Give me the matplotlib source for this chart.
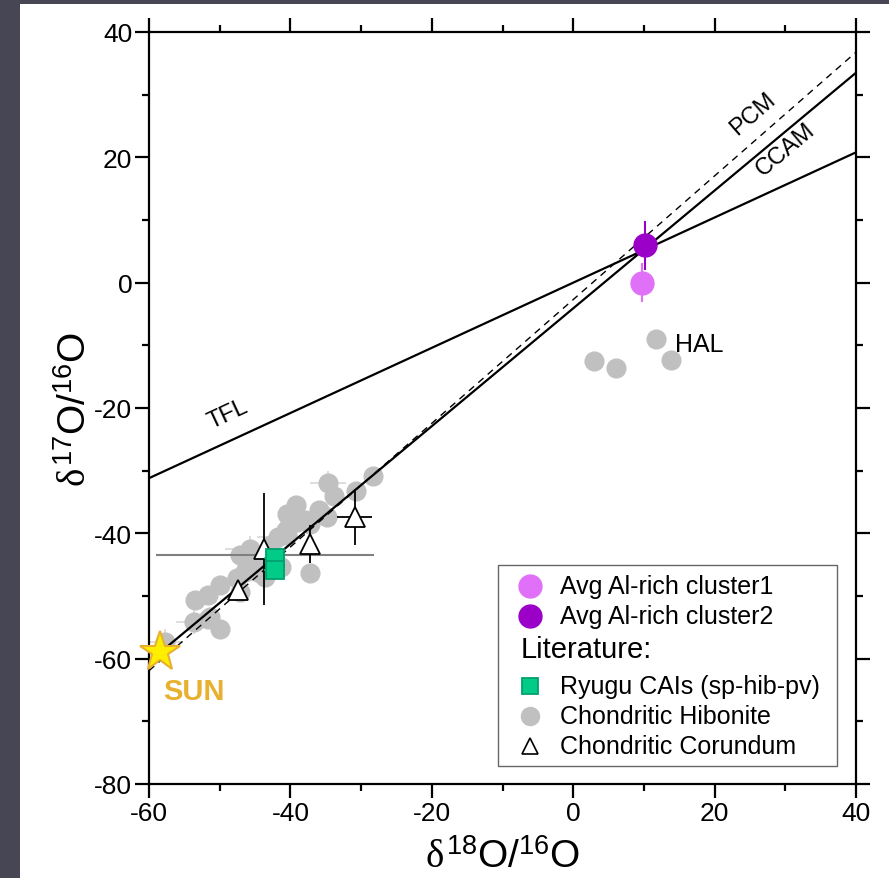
import matplotlib
matplotlib.use("Agg")
import matplotlib.pyplot as plt
from matplotlib.patches import Rectangle
from matplotlib.ticker import MultipleLocator

plt.rcParams['font.family'] = ['Liberation Sans', 'DejaVu Sans']
plt.rcParams['mathtext.fontset'] = 'custom'
plt.rcParams['mathtext.rm'] = 'Liberation Sans'
plt.rcParams['mathtext.it'] = 'Liberation Serif'
plt.rcParams['mathtext.bf'] = 'Liberation Sans:bold'
plt.rcParams['axes.unicode_minus'] = False

# ---------------- data ----------------
# reference lines: slope, intercept
line_names = ["TFL", "CCAM", "PCM"]
line_slopes = [0.52, 0.94, 0.987]
line_intercepts = [0.0, -4.1, -2.7]
line_styles = ["-", "-", "--"]
line_xrange = [-60, 40]

# this study
c1_x, c1_y, c1_yerr = [9.7], [0.0], [3.1]
c2_x, c2_y, c2_yerr = [10.1], [6.0], [3.9]

# literature: chondritic hibonite
hib_x = [-28.3, -30.7, -34.7, -33.8, -34.8, -36.0, -39.2, -40.5, -39.1, -37.2,
         -41.7, -40.5, -37.2, -41.4, -43.6, -47.1, -45.7, -46.4, -47.6, -49.9,
         -51.6, -53.5, -49.9, -51.6, -53.7, -57.7, -44.3, -40.5, -46.2, -45.3,
         -47.1, -51.4, -38.0, -42.8,
         3.0, 6.1, 11.7, 13.8]
hib_y = [-30.8, -33.3, -32.0, -34.1, -37.4, -36.3, -35.5, -36.9, -38.2, -38.5,
         -40.6, -40.3, -46.4, -45.3, -46.9, -43.5, -42.5, -46.2, -47.2, -48.3,
         -49.9, -50.7, -55.2, -53.6, -54.1, -57.3, -46.4, -39.3, -45.1, -44.5,
         -49.3, -53.3, -37.8, -41.8,
         -12.5, -13.6, -9.0, -12.3]
hib_xerr = [0, 0, 2.5, 0, 0, 0, 0, 0, 0, 0,
            3.0, 0, 0, 0, 0, 0, 3.5, 0, 0, 0,
            0, 0, 0, 0, 2.5, 2.5, 0, 0, 0, 0,
            0, 0, 0, 0,
            0, 0, 0, 0]
hib_yerr = [0, 0, 2.0, 0, 0, 0, 0, 0, 0, 0,
            2.0, 0, 0, 0, 0, 0, 2.0, 0, 0, 0,
            0, 0, 0, 0, 2.0, 2.0, 0, 0, 0, 0,
            0, 0, 0, 0,
            0, 0, 0, 0]
# long horizontal error bar (literature)
wide_x, wide_y, wide_xerr = [-43.6], [-43.4], [15.4]

# literature: chondritic corundum
cor_x = [-30.9, -37.2, -43.7, -47.4]
cor_y = [-37.4, -41.7, -42.5, -49.1]
cor_xerr = [2.5, 0.0, 0.0, 0.0]
cor_yerr = [4.5, 3.0, 9.0, 0.0]

# Ryugu CAIs
ryu_x = [-42.2, -42.2]
ryu_y = [-43.9, -45.9]
ryu_err = [1.5, 1.5]

# Sun
sun_x, sun_y = [-58.4], [-58.9]

# colors
col_c1 = "#e070f8"
col_c2 = "#9b00c8"
col_hib = "#c0c0c0"
col_ryu = "#00cc88"
col_ryu_edge = "#00a070"
col_sun = "#ffee00"
col_sun_txt = "#e8b030"

# ---------------- figure ----------------
fig = plt.figure(figsize=(8.89, 8.79), dpi=100)
fig.patch.set_facecolor("#464655")
fig.patches.append(Rectangle((20 / 889, 0), 1, 1 - 5 / 879, transform=fig.transFigure,
                             facecolor="white", edgecolor="none", zorder=-10))

ax = fig.add_axes([149 / 889, 1 - 785 / 879, (856 - 149) / 889, (785 - 33) / 879])
ax.set_facecolor("white")
ax.set_xlim(-60, 40)
ax.set_ylim(-80, 40)

# hibonite
ax.errorbar(hib_x, hib_y, xerr=hib_xerr, yerr=hib_yerr, fmt='o', ms=13.5,
            color=col_hib, mec=col_hib, ecolor="#d8d8d8", elinewidth=1.2, capsize=0, zorder=2)
ax.errorbar(wide_x, wide_y, xerr=wide_xerr, fmt='none', ecolor="#808080",
            elinewidth=1.5, capsize=0, zorder=2.5)

# lines
for s, b, ls in zip(line_slopes, line_intercepts, line_styles):
    ax.plot(line_xrange, [s * line_xrange[0] + b, s * line_xrange[1] + b],
            color='black', lw=1.6 if ls == '-' else 1.0, ls=ls,
            dashes=(5, 4) if ls == '--' else (None, None), zorder=3)

# corundum
ax.errorbar(cor_x, cor_y, xerr=cor_xerr, yerr=cor_yerr, fmt='^', ms=15,
            mfc='white', mec='black', mew=1.3, ecolor='black', elinewidth=1.3,
            capsize=0, zorder=4)

# Ryugu
ax.errorbar(ryu_x, ryu_y, xerr=ryu_err, yerr=ryu_err, fmt='s', ms=12.5,
            mfc=col_ryu, mec=col_ryu_edge, mew=1.3, ecolor=col_ryu, elinewidth=1.2,
            capsize=0, zorder=5)

# clusters
ax.errorbar(c1_x, c1_y, yerr=c1_yerr, fmt='o', ms=16.5, color=col_c1,
            ecolor=col_c1, elinewidth=1.5, capsize=0, zorder=6)
ax.errorbar(c2_x, c2_y, yerr=c2_yerr, fmt='o', ms=16.5, color=col_c2,
            ecolor=col_c2, elinewidth=1.5, capsize=0, zorder=6)

# Sun
ax.plot(sun_x, sun_y, marker='*', ms=30, mfc=col_sun, mec=col_sun_txt, mew=1.5,
        ls='none', zorder=7, clip_on=False)
ax.text(-53.6, -65.2, "SUN", color=col_sun_txt, fontsize=21, fontweight='bold',
        ha='center', va='center')

# labels on lines
ax.text(-48.8, -20.9, "TFL", fontsize=17, rotation=25, ha='center', va='center')
ax.text(25.4, 27.0, "PCM", fontsize=17, rotation=41, ha='center', va='center')
ax.text(30.1, 21.3, "CCAM", fontsize=17, rotation=40, ha='center', va='center')
ax.text(17.8, -9.8, "HAL", fontsize=18, ha='center', va='center')

# axes styling
for sp in ax.spines.values():
    sp.set_linewidth(1.6)
ax.xaxis.set_major_locator(MultipleLocator(20))
ax.xaxis.set_minor_locator(MultipleLocator(10))
ax.yaxis.set_major_locator(MultipleLocator(20))
ax.yaxis.set_minor_locator(MultipleLocator(10))
ax.tick_params(which='both', direction='out', top=True, right=True,
               labeltop=False, labelright=False, width=1.6)
ax.tick_params(which='major', length=10, labelsize=19, pad=2)
ax.tick_params(which='minor', length=5)

ax.set_xlabel(r'$\delta^{\mathrm{18}}\mathrm{O/}^{\mathrm{16}}\mathrm{O}$', fontsize=28, labelpad=10)
ax.set_ylabel(r'$\delta^{\mathrm{17}}\mathrm{O/}^{\mathrm{16}}\mathrm{O}$', fontsize=28, labelpad=0)

# manual legend (axes coordinates)
def fx(X):
    return (X - 149) / 707

def fy(Y):
    return (785 - Y) / 752

ax.add_patch(Rectangle((fx(498), fy(767)), fx(837) - fx(498), fy(566) - fy(767),
                       transform=ax.transAxes, facecolor='white', edgecolor='#666666',
                       lw=1.0, zorder=8))
leg_rows = [587, 617, 650, 687, 717, 747]
leg_labels = ["Avg Al-rich cluster1", "Avg Al-rich cluster2", "Literature:",
              "Ryugu CAIs (sp-hib-pv)", "Chondritic Hibonite", "Chondritic Corundum"]
leg_marker = [dict(marker='o', ms=16.5, mfc=col_c1, mec=col_c1),
              dict(marker='o', ms=16.5, mfc=col_c2, mec=col_c2),
              None,
              dict(marker='s', ms=12, mfc=col_ryu, mec=col_ryu_edge, mew=1.3),
              dict(marker='o', ms=13, mfc=col_hib, mec=col_hib),
              dict(marker='^', ms=12, mfc='white', mec='black', mew=1.2)]
for Y, lab, mk in zip(leg_rows, leg_labels, leg_marker):
    if mk is None:
        ax.text(fx(521), fy(Y), lab, transform=ax.transAxes, fontsize=21,
                ha='left', va='center', zorder=9)
    else:
        ax.plot([fx(530)], [fy(Y)], transform=ax.transAxes, ls='none',
                zorder=9, clip_on=False, **mk)
        ax.text(fx(560), fy(Y), lab, transform=ax.transAxes, fontsize=18,
                ha='left', va='center', zorder=9)

fig.savefig("out.png", dpi=100, facecolor=fig.get_facecolor())
